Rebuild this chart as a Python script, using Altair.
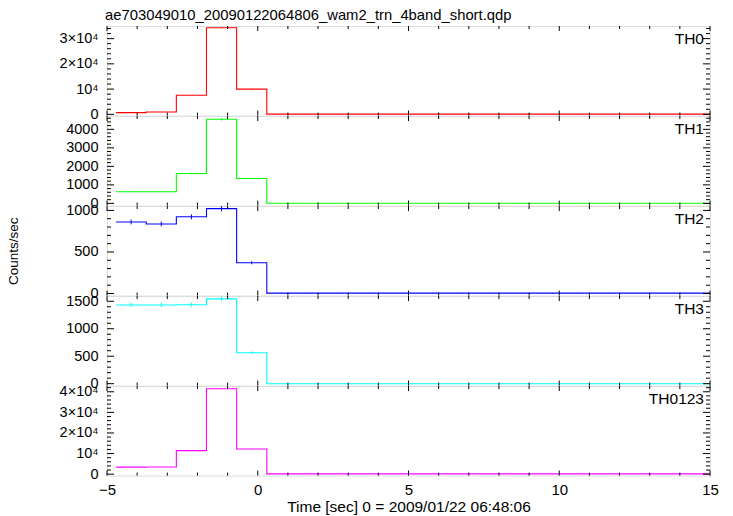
import altair as alt
import pandas as pd

# 1-s bins of the WAM transient light curve (time relative to 2009/01/22 06:48:06)
bin_start = [-4.7, -3.7, -2.7, -1.7, -0.7, 0.3, 1.3, 2.3, 3.3, 4.3,
             5.3, 6.3, 7.3, 8.3, 9.3, 10.3, 11.3, 12.3, 13.3, 14.3]
bin_stop = 15.3

th0 = [690, 930, 7570, 34290, 10000, 100, 100, 100, 100, 100,
       100, 100, 100, 100, 100, 100, 100, 100, 100, 100]
th1 = [630, 630, 1610, 4544, 1344, 10, 10, 10, 10, 10,
       10, 10, 10, 10, 10, 10, 10, 10, 10, 10]
th2 = [861, 837, 923, 1021, 370, 5, 5, 5, 5, 5,
       5, 5, 5, 5, 5, 5, 5, 5, 5, 5]
th3 = [1433, 1433, 1437, 1544, 563, 0, 0, 0, 0, 0,
       0, 0, 0, 0, 0, 0, 0, 0, 0, 0]
th0123 = [3430, 3500, 11420, 41470, 12250, 150, 150, 150, 150, 150,
          150, 150, 150, 150, 150, 150, 150, 150, 150, 150]

err0 = [26, 30, 87, 185, 100, 10, 10, 10, 10, 10, 10, 10, 10, 10, 10, 10, 10, 10, 10, 10]
err1 = [25, 25, 40, 67, 37, 3, 3, 3, 3, 3, 3, 3, 3, 3, 3, 3, 3, 3, 3, 3]
err2 = [29, 29, 30, 32, 19, 2, 2, 2, 2, 2, 2, 2, 2, 2, 2, 2, 2, 2, 2, 2]
err3 = [38, 38, 38, 39, 24, 2, 2, 2, 2, 2, 2, 2, 2, 2, 2, 2, 2, 2, 2, 2]
err0123 = [60, 60, 107, 203, 111, 12, 12, 12, 12, 12, 12, 12, 12, 12, 12, 12, 12, 12, 12, 12]

x_major = [-5, 0, 5, 10, 15]
x_minor = [-4, -3, -2, -1, 1, 2, 3, 4, 6, 7, 8, 9, 11, 12, 13, 14]
x_labels = ["\u22125", "0", "5", "10", "15"]

FONT = "Liberation Sans"
W = 603
H = 89.6
X_DOMAIN = [-5, 15]


def sci_label(v):
    if v == 0:
        return "0"
    if v == 10000:
        return "10\u2074"
    return f"{v // 10000}\u00d710\u2074"


panels = [
    dict(name="TH0", vals=th0, errs=err0, color="#ff0000", dom=[-500, 35000],
         major=[0, 10000, 20000, 30000], step=2000, sci=True),
    dict(name="TH1", vals=th1, errs=err1, color="#00ff00", dom=[-120, 4720],
         major=[0, 1000, 2000, 3000, 4000], step=200, sci=False),
    dict(name="TH2", vals=th2, errs=err2, color="#0000ff", dom=[-25, 1053],
         major=[0, 500, 1000], step=100, sci=False),
    dict(name="TH3", vals=th3, errs=err3, color="#00ffff", dom=[-35, 1596],
         major=[0, 500, 1000, 1500], step=100, sci=False),
    dict(name="TH0123", vals=th0123, errs=err0123, color="#ff00ff", dom=[-700, 42800],
         major=[0, 10000, 20000, 30000, 40000], step=2000, sci=True),
]


def build_panel(p, idx, last):
    xscale = alt.Scale(domain=X_DOMAIN, nice=False, zero=False)
    yscale = alt.Scale(domain=p["dom"], nice=False, zero=False)

    if last:
        lab_expr = " : ".join(
            f"datum.value == {v} ? '{l}'" for v, l in zip(x_major, x_labels)
        ) + " : ''"
        xaxis = alt.Axis(values=x_major, labelExpr=lab_expr, ticks=False, domain=False,
                         grid=False, labelFontSize=15, labelFont=FONT, labelColor="black",
                         labelPadding=7, labelFlush=False, labelOverlap=False,
                         labelBound=False,
                         title="Time [sec] 0 = 2009/01/22 06:48:06",
                         titleFont=FONT, titleFontSize=15.5, titleFontWeight="normal",
                         titleColor="black", titlePadding=2)
    else:
        xaxis = None

    if p["sci"]:
        ylab = " : ".join(
            f"datum.value == {v} ? '{sci_label(v)}'" for v in p["major"]
        ) + " : ''"
    else:
        ylab = "format(datum.value, 'd')"
    yaxis_kw = dict(values=p["major"], labelExpr=ylab, ticks=False, domain=False,
                    grid=False, labelFontSize=14.5, labelFont=FONT, labelColor="black",
                    labelPadding=9, labelOverlap=False, labelBound=False, labelFlush=False)
    if idx == 2:
        yaxis = alt.Axis(title="Counts/sec", titleFont=FONT, titleFontSize=13.5,
                         titleFontWeight="normal", titleColor="black",
                         titleX=-94, titleY=H / 2, titleAlign="center",
                         titleBaseline="middle", **yaxis_kw)
    else:
        yaxis = alt.Axis(title=None, **yaxis_kw)

    def X(field="x"):
        return alt.X(f"{field}:Q", scale=xscale, axis=xaxis,
                     title="Time [sec] 0 = 2009/01/22 06:48:06" if last else None)

    def Y(field="y"):
        return alt.Y(f"{field}:Q", scale=yscale, axis=yaxis,
                     title="Counts/sec" if idx == 2 else None)

    # step curve: one point per bin start, plus the end of the last bin
    line_df = pd.DataFrame({"x": bin_start + [bin_stop], "y": p["vals"] + [p["vals"][-1]]})
    line = alt.Chart(line_df).mark_line(
        interpolate="step-after", color=p["color"], strokeWidth=1.1, clip=True
    ).encode(x=X(), y=Y())

    mids = [s + 0.5 for s in bin_start]
    err_df = pd.DataFrame({
        "x": mids,
        "y": [v - e for v, e in zip(p["vals"], p["errs"])],
        "y2": [v + e for v, e in zip(p["vals"], p["errs"])],
    })
    errbars = alt.Chart(err_df).mark_rule(color=p["color"], strokeWidth=1, clip=True).encode(
        x=X(), y=Y(), y2="y2:Q"
    )

    # inward tick marks on all four sides of the frame
    xmaj = pd.DataFrame({"x": x_major})
    xmin = pd.DataFrame({"x": x_minor})
    tick_style = dict(color="black", strokeWidth=1)
    xt = [
        alt.Chart(xmaj).mark_rule(**tick_style).encode(x=X(), y=alt.value(0), y2=alt.value(5)),
        alt.Chart(xmaj).mark_rule(**tick_style).encode(x=X(), y=alt.value(H), y2=alt.value(H - 5)),
        alt.Chart(xmin).mark_rule(**tick_style).encode(x=X(), y=alt.value(0), y2=alt.value(3)),
        alt.Chart(xmin).mark_rule(**tick_style).encode(x=X(), y=alt.value(H), y2=alt.value(H - 3)),
    ]
    top = p["dom"][1]
    minor_vals = [v for v in range(0, int(top), p["step"]) if v not in p["major"]]
    ymaj = pd.DataFrame({"y": p["major"]})
    ymin = pd.DataFrame({"y": minor_vals})
    yt = [
        alt.Chart(ymaj).mark_rule(**tick_style).encode(y=Y(), x=alt.value(0), x2=alt.value(7)),
        alt.Chart(ymaj).mark_rule(**tick_style).encode(y=Y(), x=alt.value(W), x2=alt.value(W - 7)),
        alt.Chart(ymin).mark_rule(**tick_style).encode(y=Y(), x=alt.value(0), x2=alt.value(4)),
        alt.Chart(ymin).mark_rule(**tick_style).encode(y=Y(), x=alt.value(W), x2=alt.value(W - 4)),
    ]

    name = alt.Chart(pd.DataFrame({"label": [p["name"]]})).mark_text(
        align="right", baseline="middle", font=FONT, fontSize=15.5, color="black"
    ).encode(x=alt.value(W - 6), y=alt.value(12.5), text="label:N")

    return alt.layer(line, errbars, *xt, *yt, name).properties(width=W, height=H)


charts = [build_panel(p, i, i == len(panels) - 1) for i, p in enumerate(panels)]

chart = alt.vconcat(*charts, spacing=0, bounds="flush").properties(
    title=alt.TitleParams(
        "ae703049010_20090122064806_wam2_trn_4band_short.qdp",
        anchor="start", frame="group", font=FONT, fontSize=14.8,
        fontWeight="normal", color="black", offset=2, dx=-2,
    ),
    padding={"left": 5, "top": 8, "right": 5, "bottom": 1},
).configure_view(stroke="black", strokeWidth=1.3).configure(background="white")

chart.save("out.html", embed_options={"renderer": "svg", "actions": False})
